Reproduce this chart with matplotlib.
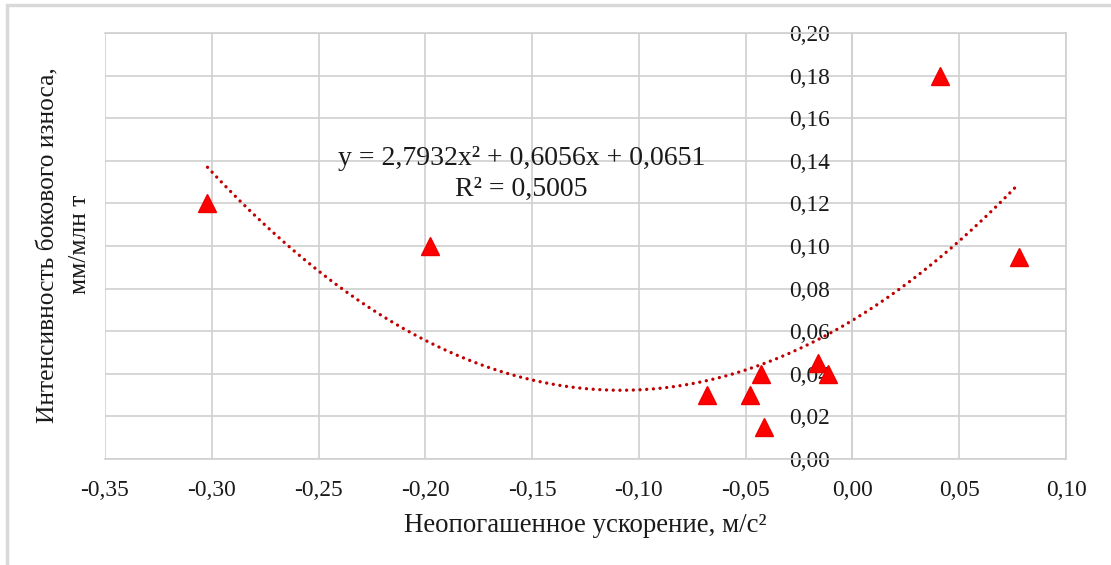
import numpy as np
import matplotlib
matplotlib.use("Agg")
import matplotlib.pyplot as plt
from matplotlib.patches import Rectangle
from matplotlib.ticker import FuncFormatter

# Data
accel = [-0.302, -0.198, -0.068, -0.048, -0.043, -0.0415, -0.016, -0.0115, 0.041, 0.078]
wear = [0.120, 0.100, 0.030, 0.030, 0.040, 0.015, 0.045, 0.040, 0.180, 0.095]
trend_coefs = [2.7932, 0.6056, 0.0651]
trend_text = "y = 2,7932x² + 0,6056x + 0,0651\nR² = 0,5005"

x_ticks = np.arange(-0.35, 0.1001, 0.05)
y_ticks = np.arange(0.0, 0.2001, 0.02)

plt.rcParams['font.family'] = ['Liberation Serif', 'DejaVu Serif']

GRID = "#d0d0d0"
TXT = "#1a1a1a"


def comma(v, pos):
    s = "%.2f" % v
    if s == "-0.00":
        s = "0.00"
    return s.replace(".", ",")


def main():
    fig = plt.figure(figsize=(11.11, 5.65), dpi=100)
    ax = fig.add_axes([0.0945, 0.1876, 0.865, 0.754])

    # chart border (clipped on the right/bottom like in the screenshot)
    fig.patches.append(Rectangle((7 / 1111, -0.1), 1.2, 1 - 5 / 565 + 0.1,
                                 transform=fig.transFigure, fill=False,
                                 edgecolor="#d9d9d9", linewidth=2.5))

    ax.set_xlim(-0.35, 0.10)
    ax.set_ylim(0, 0.20)
    ax.set_xticks(x_ticks)
    ax.set_yticks(y_ticks)
    ax.xaxis.set_major_formatter(FuncFormatter(comma))
    ax.yaxis.set_major_formatter(FuncFormatter(comma))
    ax.grid(True, color=GRID, linewidth=1.2)
    ax.set_axisbelow(True)

    ax.spines['left'].set_position(('data', 0))
    for sp in ax.spines.values():
        sp.set_color(GRID)
        sp.set_linewidth(1.2)
    ax.tick_params(length=0, labelsize=16.8, colors=TXT)
    ax.tick_params(axis='x', pad=15)
    ax.tick_params(axis='y', pad=16)

    # trendline
    xs = np.linspace(min(accel), max(accel), 300)
    ax.plot(xs, np.polyval(trend_coefs, xs), color="#c00000", linewidth=2.4,
            linestyle=(0, (0.01, 2.0)), dash_capstyle='round', zorder=2)

    ax.plot(accel, wear, linestyle="none", marker="^", markersize=13,
            color="#ff0000", markeredgecolor="#ee0000", zorder=3)

    ax.text(-0.155, 0.134, trend_text, ha="center", va="center",
            fontsize=20, color=TXT, linespacing=1.3)

    ax.set_xlabel("Неопогашенное ускорение, м/с²", fontsize=19.4,
                  color=TXT, labelpad=9)
    fig.text(0.058, 0.567, "Интенсивность бокового износа,\nмм/млн т",
             rotation=90, ha="center", va="center", fontsize=18.4,
             color=TXT, linespacing=1.55)

    fig.savefig("out.png", dpi=100)


main()
